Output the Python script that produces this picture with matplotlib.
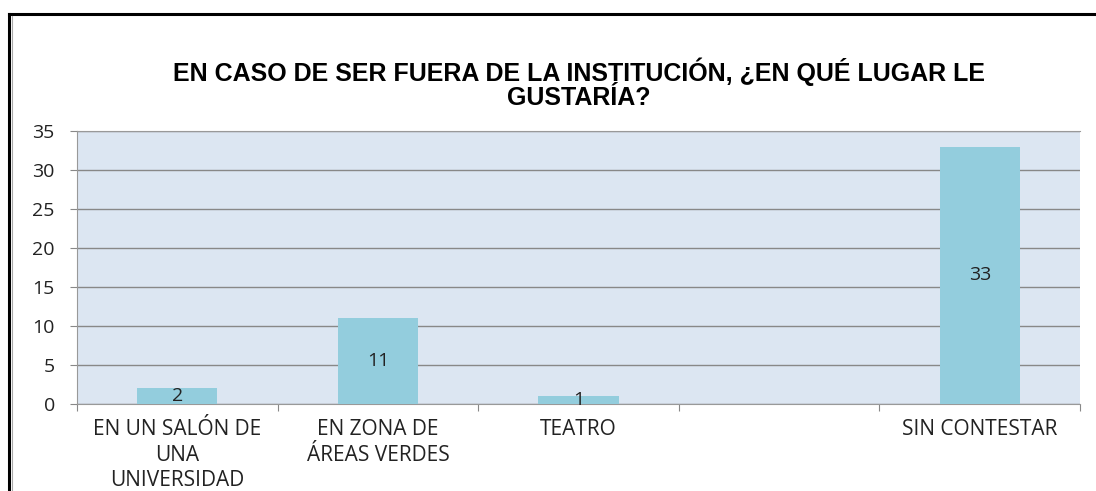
import matplotlib.pyplot as plt
from matplotlib.lines import Line2D

# data
categories = ['EN UN SALÓN DE\nUNA\nUNIVERSIDAD', 'EN ZONA DE\nÁREAS VERDES', 'TEATRO', '', 'SIN CONTESTAR']
values = [2, 11, 1, None, 33]
title = 'EN CASO DE SER FUERA DE LA INSTITUCIÓN, ¿EN QUÉ LUGAR LE\nGUSTARÍA?'
yticks = [0, 5, 10, 15, 20, 25, 30, 35]

W, H = 1096.0, 491.0
fig = plt.figure(figsize=(W / 100, H / 100), dpi=100)
ax = fig.add_axes([77 / W, 1 - 404 / H, 1003 / W, 273 / H])
ax.set_facecolor('#DCE6F2')

xs = [i for i, v in enumerate(values) if v is not None]
vs = [v for v in values if v is not None]
ax.bar(xs, vs, width=0.4, color='#93CDDD', zorder=3)
for x, v in zip(xs, vs):
  ax.text(x, v / 2.0, str(v), ha='center', va='center', fontsize=14,
          family='Open Sans', color='#222222', zorder=4)

ax.set_xlim(-0.5, 4.5)
ax.set_ylim(0, 35)
ax.set_yticks(yticks)
ax.set_xticks([i - 0.5 for i in range(6)])
ax.set_xticklabels([])
ax.set_xticks(range(5), minor=True)
ax.set_xticklabels(categories, minor=True, family='Open Sans', fontsize=15,
                   linespacing=1.28, color='#222222')
ax.tick_params(axis='x', which='minor', length=0, pad=11)
ax.tick_params(axis='x', which='major', length=5, color='#888888', direction='out')
ax.tick_params(axis='y', length=5, color='#888888', labelsize=14, pad=11, labelcolor='#222222')
for lbl in ax.get_yticklabels():
  lbl.set_family('Open Sans')
ax.grid(axis='y', color='#888888', linewidth=1.0, zorder=1)
ax.set_axisbelow(True)
ax.spines['right'].set_visible(False)
for side in ['top', 'left', 'bottom']:
  ax.spines[side].set_color('#999999')

fig.text(579 / W, 1 - 84 / H, title, ha='center', va='center', fontsize=18,
         fontweight='bold', family='Liberation Sans', linespacing=1.0)

# outer frame (only top and left edges show in the crop)
fig.add_artist(Line2D([8.5 / W, 8.5 / W], [0, 1 - 14 / H], color='black', linewidth=2.2, transform=fig.transFigure))
fig.add_artist(Line2D([8.5 / W, 1], [1 - 14 / H, 1 - 14 / H], color='black', linewidth=2.2, transform=fig.transFigure))
fig.add_artist(Line2D([11.5 / W, 11.5 / W], [0, 1 - 16 / H], color='#aaaaaa', linewidth=0.8, transform=fig.transFigure))

fig.savefig('out.png', dpi=100)
